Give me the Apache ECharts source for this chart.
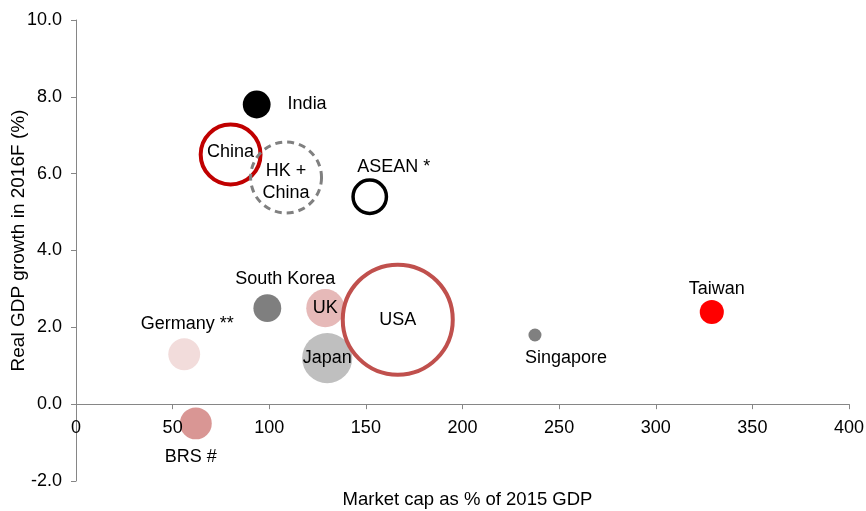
<!DOCTYPE html>
<html>
<head>
<meta charset="utf-8">
<script src="https://cdn.jsdelivr.net/npm/echarts@6/dist/echarts.min.js"></script>
<style>
  html, body { margin: 0; padding: 0; background: #fff; }
  #chart { width: 866px; height: 511px; }
</style>
</head>
<body>
<div id="chart"></div>
<script>
// Market data by economy
var countries = ['India', 'China', 'HK +\nChina', 'ASEAN *', 'South Korea', 'UK', 'Japan', 'USA', 'Germany **', 'BRS #', 'Singapore', 'Taiwan'];
var marketCapPctGdp = [93.5, 80, 108.7, 152, 99, 129, 130, 166.5, 56, 62, 237.5, 329];
var gdpGrowth2016F = [7.8, 6.5, 5.9, 5.4, 2.5, 2.5, 1.2, 2.2, 1.3, -0.5, 1.8, 2.4];
// Bubble size: market capitalisation (USD trn)
var marketCapUsdTrn = [1.6, 7.4, 10.4, 2.3, 1.6, 3.0, 5.2, 25, 2.1, 2.1, 0.35, 1.2];

var xTicks = [0, 50, 100, 150, 200, 250, 300, 350, 400];
var yTicks = [-2, 0, 2, 4, 6, 8, 10];

var FONT = '"Liberation Sans", Arial, sans-serif';

// Per-economy look and label placement
var looks = {
  'India':       { fill: '#000000', label: { position: 'right', distance: 17 } },
  'China':       { fill: 'rgba(255,255,255,0)', stroke: '#c00000', lw: 4, label: { position: 'inside', offset: [0, -2] } },
  'HK +\nChina': { fill: 'rgba(255,255,255,0)', stroke: '#808080', lw: 3, dash: [7, 5], label: { position: 'inside', offset: [0, 5], lineHeight: 22 } },
  'ASEAN *':     { fill: 'rgba(255,255,255,0)', stroke: '#000000', lw: 3.5, label: { position: 'top', distance: 2, offset: [24, 0] } },
  'South Korea': { fill: '#7f7f7f', label: { position: 'top', distance: 6, offset: [18, 0] } },
  'UK':          { fill: '#e6b9b8', label: { position: 'inside' } },
  'Japan':       { fill: '#bfbfbf', label: { position: 'inside' } },
  'USA':         { fill: 'rgba(255,255,255,0)', stroke: '#c0504d', lw: 4, label: { position: 'inside' } },
  'Germany **':  { fill: '#f2dcdb', label: { position: 'top', distance: 5, offset: [3, 0] } },
  'BRS #':       { fill: '#d99694', label: { position: 'bottom', distance: 9, offset: [-5, 0] } },
  'Singapore':   { fill: '#808080', label: { position: 'bottom', distance: 8, offset: [31, 0] } },
  'Taiwan':      { fill: '#ff0000', label: { position: 'top', distance: 2, offset: [5, 0] } }
};

function bubbleDiameter(v) {
  return 110 * Math.sqrt(v / 25);
}

var points = countries.map(function (name, i) {
  var lk = looks[name];
  var lab = Object.assign({
    show: true,
    formatter: name,
    color: '#000',
    fontSize: 18,
    fontFamily: FONT
  }, lk.label);
  return {
    name: name,
    value: [marketCapPctGdp[i], gdpGrowth2016F[i], marketCapUsdTrn[i]],
    symbolSize: bubbleDiameter(marketCapUsdTrn[i]),
    itemStyle: {
      color: lk.fill,
      borderColor: lk.stroke || lk.fill,
      borderWidth: lk.stroke ? lk.lw : 0,
      borderType: lk.dash || 'solid',
      opacity: 1
    },
    label: lab
  };
});

var axisGray = '#868686';

// Plot box; the horizontal axis sits on the y = 0 line, so lift it by that distance
var grid = { left: 76, right: 17, top: 20, bottom: 30 };
var plotH = 511 - grid.top - grid.bottom;
var yMin = yTicks[0], yMax = yTicks[yTicks.length - 1];
var zeroLift = plotH * (0 - yMin) / (yMax - yMin);

var chart = echarts.init(document.getElementById('chart'), null, { renderer: 'canvas' });
chart.setOption({
  animation: false,
  backgroundColor: '#ffffff',
  grid: Object.assign({ containLabel: false, outerBoundsMode: 'none' }, grid),
  xAxis: {
    type: 'value',
    z: 3,
    min: xTicks[0],
    max: xTicks[xTicks.length - 1],
    interval: xTicks[1] - xTicks[0],
    offset: -zeroLift,
    name: 'Market cap as % of 2015 GDP',
    nameLocation: 'middle',
    nameGap: 86,
    nameMoveOverlap: false,
    nameTextStyle: { color: '#000', fontSize: 18.5, fontFamily: FONT, verticalAlign: 'top', padding: [0, 0, 0, 10] },
    axisLine: { onZero: false, lineStyle: { color: axisGray, width: 1 } },
    axisTick: { show: true, inside: false, length: 5, lineStyle: { color: axisGray } },
    axisLabel: { color: '#000', fontSize: 18, fontFamily: FONT, margin: 15 },
    splitLine: { show: false }
  },
  yAxis: {
    type: 'value',
    min: yMin,
    max: yMax,
    interval: yTicks[1] - yTicks[0],
    name: 'Real GDP growth in 2016F (%)',
    nameLocation: 'middle',
    nameGap: 48,
    nameRotate: 90,
    nameMoveOverlap: false,
    nameTextStyle: { color: '#000', fontSize: 19, fontFamily: FONT, padding: [0, 0, 0, 20] },
    axisLine: { show: true, onZero: false, lineStyle: { color: axisGray, width: 1 } },
    axisTick: { show: true, inside: false, length: 5, lineStyle: { color: axisGray } },
    axisLabel: {
      color: '#000', fontSize: 18, fontFamily: FONT, margin: 14,
      formatter: function (v) { return v.toFixed(1); }
    },
    splitLine: { show: false }
  },
  series: [{
    type: 'scatter',
    z: 2,
    data: points,
    emphasis: { disabled: true }
  }]
});
</script>
</body>
</html>
